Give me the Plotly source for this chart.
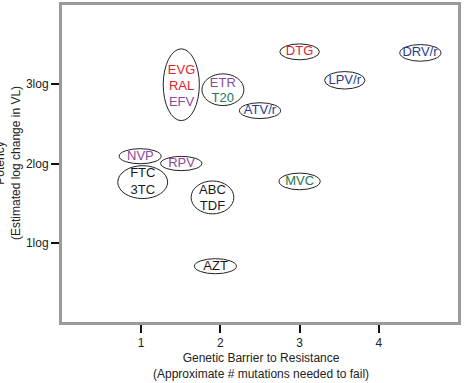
import plotly.graph_objects as go

# ---- data ----
# each drug label (one text line) with its position: x = genetic barrier, y = potency (log)
drug_names = ["EVG", "RAL", "EFV", "ETR", "T20", "ATV/r", "DTG", "DRV/r", "LPV/r",
              "MVC", "NVP", "RPV", "FTC", "3TC", "ABC", "TDF", "AZT"]
drug_barrier = [1.51, 1.51, 1.51, 2.03, 2.03, 2.50, 3.00, 4.52, 3.57,
                3.00, 0.99, 1.51, 1.02, 1.02, 1.90, 1.90, 1.94]
drug_potency = [3.17, 2.97, 2.77, 3.01, 2.82, 2.67, 3.41, 3.40, 3.05,
                1.77, 2.09, 2.00, 1.87, 1.66, 1.66, 1.46, 0.70]
drug_class = ["INSTI", "INSTI", "NNRTI", "NNRTI", "Entry", "PI", "INSTI", "PI", "PI",
              "Entry", "NNRTI", "NNRTI", "NRTI", "NRTI", "NRTI", "NRTI", "NRTI"]

# ellipse groups (centre in data units)
group_x = [1.506, 2.032, 2.50, 3.00, 4.525, 3.57, 3.00, 0.987, 1.506, 1.019, 1.90, 1.937]
group_y = [2.994, 2.931, 2.667, 3.409, 3.396, 3.05, 1.774, 2.092, 2.00, 1.765, 1.572, 0.704]
group_w = [0.456, 0.53, 0.52, 0.50, 0.52, 0.51, 0.52, 0.53, 0.52, 0.63, 0.54, 0.53]
group_h = [0.906, 0.40, 0.20, 0.20, 0.21, 0.22, 0.21, 0.19, 0.18, 0.415, 0.415, 0.19]

x_ticks = [1, 2, 3, 4]
y_ticks = [1, 2, 3]
y_tick_labels = ["1log", "2log", "3log"]

class_colors = {"INSTI": "#e3232b", "NNRTI": "#8a4b9f", "PI": "#2b3a8f",
                "Entry": "#22784a", "NRTI": "#1a1a1a"}

FONT = "Liberation Sans, Arial, sans-serif"

fig = go.Figure()

fig.add_trace(go.Scatter(
    x=drug_barrier, y=drug_potency, mode="text", text=drug_names,
    textfont=dict(family=FONT, size=13, color=[class_colors[c] for c in drug_class]),
    hoverinfo="text", showlegend=False,
))

for gx, gy, gw, gh in zip(group_x, group_y, group_w, group_h):
    fig.add_shape(type="circle", xref="x", yref="y",
                  x0=gx - gw / 2, x1=gx + gw / 2, y0=gy - gh / 2, y1=gy + gh / 2,
                  line=dict(color="#222222", width=1), layer="below")

fig.update_xaxes(range=[0, 5], tickvals=x_ticks, ticks="outside", ticklen=8,
                 tickcolor="#111", tickwidth=1.5, showgrid=False, zeroline=False,
                 showline=True, mirror=True, linecolor="#9a9a9a", linewidth=3,
                 tickfont=dict(family=FONT, size=12, color="#222"))
fig.update_yaxes(range=[0, 4], tickvals=y_ticks, ticktext=y_tick_labels, ticks="outside",
                 ticklen=8, tickcolor="#111", tickwidth=1.5, showgrid=False, zeroline=False,
                 showline=True, mirror=True, linecolor="#9a9a9a", linewidth=3,
                 tickfont=dict(family=FONT, size=12, color="#222"))

fig.add_annotation(xref="paper", yref="paper", x=(261 - 62) / 396, y=(322 - 366) / 317,
                   text="Genetic Barrier to Resistance<br>(Approximate # mutations needed to fail)",
                   showarrow=False, xanchor="center", yanchor="middle",
                   font=dict(family=FONT, size=12, color="#222"))
fig.add_annotation(xref="paper", yref="paper", x=(8 - 62) / 396, y=(322 - 163) / 317,
                   text="Potency<br>(Estimated log change in VL)", textangle=-90,
                   showarrow=False, xanchor="center", yanchor="middle",
                   font=dict(family=FONT, size=12, color="#222"))

fig.update_layout(width=470, height=383,
                  margin=dict(l=62, r=12, t=5, b=61, autoexpand=False),
                  plot_bgcolor="white", paper_bgcolor="white", showlegend=False)

fig.write_html("out.html", config={"displayModeBar": False},
               post_script="document.body.style.margin='0';document.body.style.overflow='hidden';")
